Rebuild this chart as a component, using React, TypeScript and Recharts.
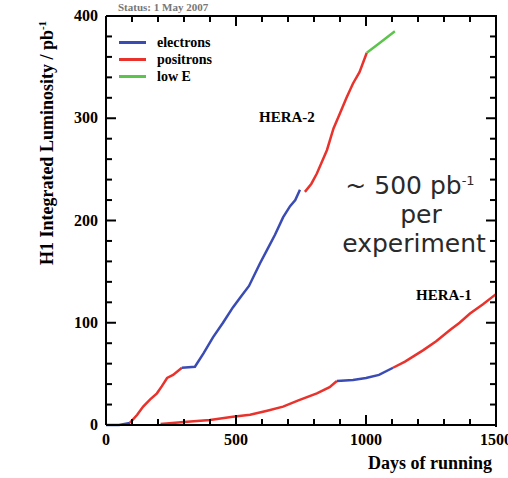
import { LineChart, Line, XAxis, YAxis } from "recharts";

// HERA-2 running (days since start of HERA-2)
const hera2ElectronsA = [
  { day: 0, lumi: 0 },
  { day: 50, lumi: 0 },
  { day: 92, lumi: 2 },
];
const hera2PositronsA = [
  { day: 92, lumi: 2 },
  { day: 120, lumi: 10 },
  { day: 143, lumi: 18 },
  { day: 170, lumi: 25 },
  { day: 196, lumi: 31 },
  { day: 215, lumi: 38 },
  { day: 235, lumi: 46 },
  { day: 258, lumi: 49 },
  { day: 292, lumi: 56 },
];
const hera2ElectronsB = [
  { day: 292, lumi: 56 },
  { day: 342, lumi: 57 },
  { day: 375, lumi: 70 },
  { day: 412, lumi: 86 },
  { day: 450, lumi: 100 },
  { day: 488, lumi: 115 },
  { day: 520, lumi: 126 },
  { day: 550, lumi: 136 },
  { day: 592, lumi: 158 },
  { day: 619, lumi: 171 },
  { day: 650, lumi: 186 },
  { day: 681, lumi: 203 },
  { day: 708, lumi: 214 },
  { day: 728, lumi: 220 },
  { day: 746, lumi: 230 },
];
const hera2PositronsB = [
  { day: 765, lumi: 228 },
  { day: 790, lumi: 236 },
  { day: 811, lumi: 246 },
  { day: 850, lumi: 269 },
  { day: 875, lumi: 290 },
  { day: 900, lumi: 305 },
  { day: 925, lumi: 320 },
  { day: 950, lumi: 334 },
  { day: 975, lumi: 345 },
  { day: 1003, lumi: 364 },
];
const hera2LowE = [
  { day: 1003, lumi: 364 },
  { day: 1050, lumi: 373 },
  { day: 1111, lumi: 385 },
];

// HERA-1 running
const hera1PositronsA = [
  { day: 210, lumi: 1 },
  { day: 300, lumi: 3 },
  { day: 400, lumi: 5 },
  { day: 488, lumi: 8 },
  { day: 554, lumi: 10 },
  { day: 620, lumi: 14 },
  { day: 681, lumi: 18 },
  { day: 740, lumi: 24 },
  { day: 811, lumi: 31 },
  { day: 860, lumi: 37 },
  { day: 888, lumi: 43 },
];
const hera1Electrons = [
  { day: 888, lumi: 43 },
  { day: 950, lumi: 44 },
  { day: 1000, lumi: 46 },
  { day: 1050, lumi: 49 },
  { day: 1104, lumi: 56 },
];
const hera1PositronsB = [
  { day: 1104, lumi: 56 },
  { day: 1150, lumi: 62 },
  { day: 1219, lumi: 73 },
  { day: 1270, lumi: 82 },
  { day: 1323, lumi: 93 },
  { day: 1360, lumi: 100 },
  { day: 1400, lumi: 109 },
  { day: 1450, lumi: 118 },
  { day: 1500, lumi: 128 },
];

const xTicks = Array.from({ length: 16 }, (_, i) => i * 100);
const yTicks = Array.from({ length: 21 }, (_, i) => i * 20);
const xLabelTicks = [0, 500, 1000, 1500];
const yLabelTicks = [0, 100, 200, 300, 400];

const legendNames = ["electrons", "positrons", "low E"];
const legendColors = ["#3a4cb4", "#e8322b", "#5cc44c"];

const BLUE = "#3a4cb4";
const RED = "#e8322b";
const GREEN = "#5cc44c";

const serif = "'Liberation Serif', 'DejaVu Serif', serif";

// custom ticks draw their own inward tick marks (long for labelled values)
const BottomTick = (props: any) => {
  const { x, y, payload } = props;
  const major = xLabelTicks.includes(payload.value);
  return (
    <g>
      <path d={`M${x},${y}V${y - (major ? 10 : 6)}`} stroke="#000" strokeWidth={2} fill="none" />
      {major && (
        <text x={x} y={y + 20} textAnchor="middle" fontFamily={serif} fontWeight="bold" fontSize={16} fill="#000">
          {payload.value}
        </text>
      )}
    </g>
  );
};

const LeftTick = (props: any) => {
  const { x, y, payload } = props;
  const major = yLabelTicks.includes(payload.value);
  return (
    <g>
      <path d={`M${x},${y}H${x + (major ? 10 : 6)}`} stroke="#000" strokeWidth={2} fill="none" />
      {major && (
        <text x={x - 8} y={y + 5} textAnchor="end" fontFamily={serif} fontWeight="bold" fontSize={16} fill="#000">
          {payload.value}
        </text>
      )}
    </g>
  );
};

const TopTick = (props: any) => {
  const { x, y, payload } = props;
  const major = xLabelTicks.includes(payload.value);
  return <path d={`M${x},${y}V${y + (major ? 10 : 6)}`} stroke="#000" strokeWidth={2} fill="none" />;
};

const RightTick = (props: any) => {
  const { x, y, payload } = props;
  const major = yLabelTicks.includes(payload.value);
  return <path d={`M${x},${y}H${x - (major ? 10 : 6)}`} stroke="#000" strokeWidth={2} fill="none" />;
};

const abs = (left: number, top: number, extra: any = {}) => ({
  position: "absolute" as const,
  left,
  top,
  whiteSpace: "nowrap" as const,
  fontFamily: serif,
  fontWeight: "bold",
  color: "#000",
  lineHeight: 1,
  ...extra,
});

export default function App() {
  const lineProps = {
    dataKey: "lumi",
    dot: false,
    strokeWidth: 2.5,
    isAnimationActive: false,
    type: "linear" as const,
  };
  return (
    <div style={{ position: "absolute", left: 0, top: 0, width: 508, height: 478 }}>
      <LineChart width={508} height={478} margin={{ top: 14, right: 10, bottom: 23, left: 46 }}>
        <XAxis
          dataKey="day"
          type="number"
          domain={[0, 1500]}
          ticks={xTicks}
          interval={0}
          tickSize={-6}
          tickMargin={6}
          tickLine={false}
          tick={<BottomTick />}
          axisLine={{ stroke: "#000", strokeWidth: 2 }}
          height={30}
        />
        <XAxis
          xAxisId="top"
          orientation="top"
          dataKey="day"
          type="number"
          domain={[0, 1500]}
          ticks={xTicks}
          interval={0}
          tickSize={-6}
          tickMargin={6}
          tickLine={false}
          tick={<TopTick />}
          axisLine={{ stroke: "#000", strokeWidth: 2 }}
          height={2}
        />
        <YAxis
          type="number"
          domain={[0, 400]}
          ticks={yTicks}
          interval={0}
          tickSize={-6}
          tickMargin={6}
          tickLine={false}
          tick={<LeftTick />}
          axisLine={{ stroke: "#000", strokeWidth: 2 }}
          width={60}
        />
        <YAxis
          yAxisId="right"
          orientation="right"
          type="number"
          domain={[0, 400]}
          ticks={yTicks}
          interval={0}
          tickSize={-6}
          tickMargin={6}
          tickLine={false}
          tick={<RightTick />}
          axisLine={{ stroke: "#000", strokeWidth: 2 }}
          width={2}
        />
        <Line {...lineProps} data={hera2ElectronsA} stroke={BLUE} />
        <Line {...lineProps} data={hera2PositronsA} stroke={RED} />
        <Line {...lineProps} data={hera2ElectronsB} stroke={BLUE} />
        <Line {...lineProps} data={hera2PositronsB} stroke={RED} />
        {/* low E segment is bound to the top / right frame axes (same scales) */}
        <Line {...lineProps} data={hera2LowE} stroke={GREEN} xAxisId="top" yAxisId="right" />
        <Line {...lineProps} data={hera1PositronsA} stroke={RED} />
        <Line {...lineProps} data={hera1Electrons} stroke={BLUE} />
        <Line {...lineProps} data={hera1PositronsB} stroke={RED} />
      </LineChart>

      {/* top / right edges of the plot frame, painted above the chart */}
      <div
        style={{
          position: "absolute",
          zIndex: 5,
          left: 106,
          top: 15,
          width: 389,
          height: 410,
          borderTop: "2px solid #000",
          borderRight: "2px solid #000",
          pointerEvents: "none",
        }}
      />

      <div style={abs(118, 2, { fontSize: 11, color: "#777" })}>Status: 1 May 2007</div>

      <div
        style={abs(46, 143, {
          fontSize: 18,
          transform: "translate(-100%, -50%) rotate(-90deg)",
          transformOrigin: "100% 50%",
        })}
      >
        <div style={{ transform: "translateX(50%)" }}>
          H1 Integrated Luminosity / pb<sup style={{ fontSize: 11 }}>-1</sup>
        </div>
      </div>

      <div style={{ position: "absolute", left: 119, top: 34 }}>
        {legendNames.map((name, i) => (
          <div
            key={name}
            style={{ display: "flex", alignItems: "center", height: 17, fontFamily: serif, fontWeight: "bold", fontSize: 14 }}
          >
            <span style={{ display: "inline-block", width: 27, height: 3, background: legendColors[i], marginRight: 11 }} />
            <span>{name}</span>
          </div>
        ))}
      </div>

      <div style={abs(259, 110, { fontSize: 15 })}>HERA-2</div>
      <div style={abs(416, 288, { fontSize: 15 })}>HERA-1</div>
      <div style={abs(368, 454, { fontSize: 18 })}>Days of running</div>

      <div
        style={{
          position: "absolute",
          left: 330,
          top: 166,
          width: 168,
          textAlign: "center",
          fontFamily: "'DejaVu Sans', sans-serif",
          fontSize: 25,
          lineHeight: "29px",
          color: "#2a2a2a",
        }}
      >
        <div style={{ marginLeft: -8 }}>
          ~ 500 pb<sup style={{ fontSize: 13 }}>-1</sup>
        </div>
        <div style={{ marginLeft: 14 }}>per</div>
        <div>experiment</div>
      </div>
    </div>
  );
}
